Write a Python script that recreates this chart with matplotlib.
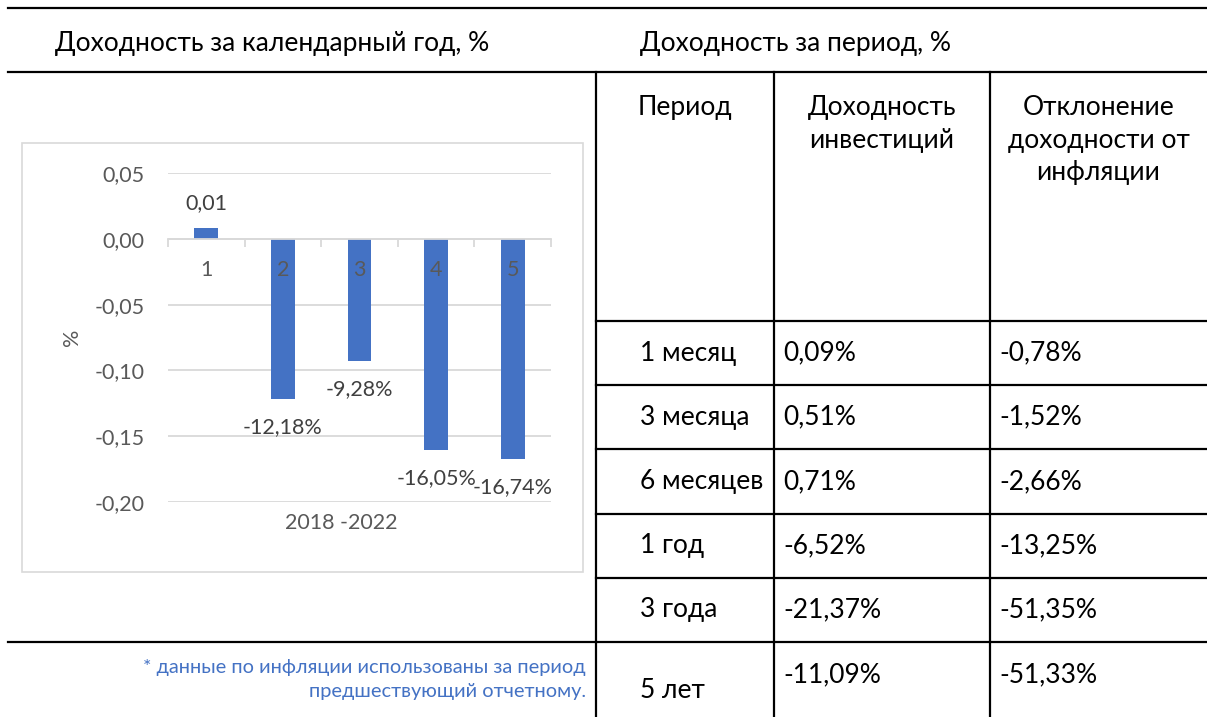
import matplotlib
matplotlib.use("Agg")
import matplotlib.pyplot as plt
from matplotlib.patches import Rectangle
from matplotlib.ticker import FixedLocator, FuncFormatter

plt.rcParams['font.family'] = ['Lato', 'DejaVu Sans']

# chart data: calendar-year returns
categories = ['1', '2', '3', '4', '5']
returns = [0.0085, -0.1218, -0.0928, -0.1605, -0.1674]
bar_labels = ['0,01', '-12,18%', '-9,28%', '-16,05%', '-16,74%']
period_caption = '2018 -2022'

# table data: returns over period
periods = ['1 месяц', '3 месяца', '6 месяцев', '1 год', '3 года', '5 лет']
invest_return = [0.09, 0.51, 0.71, -6.52, -21.37, -11.09]
infl_deviation = [-0.78, -1.52, -2.66, -13.25, -51.35, -51.33]

title_left = 'Доходность за календарный год, %'
title_right = 'Доходность за период, %'
col_headers = ['Период', 'Доходность\nинвестиций', 'Отклонение\nдоходности от\nинфляции']
note = '* данные по инфляции использованы за период\nпредшествующий отчетному.'

W, H = 1207, 717
BAR = '#4472C4'
GRID = '#D9D9D9'
TXT = '#000000'
BIG = 19      # page / table text
SMALL = 15.5  # chart text


def pct(v):
    return f"{v:.2f}%".replace('.', ',')


fig = plt.figure(figsize=(W / 100, H / 100), dpi=100)
bg = fig.add_axes([0, 0, 1, 1])
bg.set_xlim(0, W)
bg.set_ylim(H, 0)
bg.axis('off')

lw = 1.6
# page rules
bg.plot([8, W], [8, 8], color='k', lw=lw)
bg.plot([8, W], [72, 72], color='k', lw=lw)
bg.plot([596, 596], [72, H], color='k', lw=lw)
bg.plot([8, 596], [642, 642], color='k', lw=lw)

bg.text(55, 43, title_left, fontsize=BIG, va='center', ha='left', color=TXT)
bg.text(640, 43, title_right, fontsize=BIG, va='center', ha='left', color=TXT)

# table grid
col_x = [596, 774, 990, W]
row_y = [321 + 64.2 * i for i in range(6)]
for x in col_x[1:3]:
    bg.plot([x, x], [72, H], color='k', lw=lw)
for y in row_y:
    bg.plot([596, W], [y, y], color='k', lw=lw)

for i, h in enumerate(col_headers):
    cx = (col_x[i] + col_x[i + 1]) / 2
    bg.text(cx, 95, h, fontsize=BIG, ha='center', va='top', color=TXT, linespacing=1.38)

for i, (p, a, b) in enumerate(zip(periods, invest_return, infl_deviation)):
    y0 = row_y[i]
    if i < len(periods) - 1:
        yp = yv = y0 + 32
    else:
        yp, yv = y0 + 48, y0 + 33
    bg.text(640, yp, p, fontsize=BIG, va='center', ha='left', color=TXT)
    bg.text(783, yv, pct(a), fontsize=BIG, va='center', ha='left', color=TXT)
    bg.text(999, yv, pct(b), fontsize=BIG, va='center', ha='left', color=TXT)

# note under the chart
bg.text(586, 680, note, fontsize=14.4, ha='right', va='center', color=BAR,
        linespacing=1.5, multialignment='right')

# chart frame
bg.add_patch(Rectangle((22, 143), 561, 429, fill=False, ec=GRID, lw=1.2))

# bar chart
ax = fig.add_axes([168 / W, 1 - 502 / H, 383 / W, 329 / H])
x = list(range(len(categories)))
ax.bar(x, returns, width=0.31, color=BAR, zorder=2)
ax.set_xlim(-0.5, len(categories) - 0.5)
ax.set_ylim(-0.20, 0.05)
ax.set_yticks([0.05, 0.0, -0.05, -0.10, -0.15, -0.20])
ax.yaxis.set_major_formatter(FuncFormatter(lambda v, _: f"{v + 0.0:.2f}".replace('.', ',')))
ax.grid(axis='y', color=GRID, lw=1.3, zorder=0)
ax.tick_params(axis='y', length=0, pad=17, labelsize=SMALL, labelcolor='#595959')

for s in ['top', 'right', 'left']:
    ax.spines[s].set_visible(False)
ax.spines['bottom'].set_position(('data', 0))
ax.spines['bottom'].set_color(GRID)
ax.spines['bottom'].set_linewidth(1.3)
ax.spines['bottom'].set_zorder(3)
ax.set_xticks(x)
ax.set_xticklabels(categories)
ax.xaxis.set_minor_locator(FixedLocator([i - 0.5 for i in range(len(categories) + 1)]))
ax.tick_params(axis='x', which='major', length=0, pad=15, labelsize=SMALL, labelcolor='#595959')
ax.tick_params(axis='x', which='minor', length=6, color=GRID, width=1.3)
ax.xaxis.set_zorder(3)

for xi, v, lab in zip(x, returns, bar_labels):
    off = 18 if v > 0 else -20
    ax.annotate(lab, (xi, v), xytext=(0, off), textcoords='offset points',
                ha='center', va='center', fontsize=SMALL, color='#404040')

ax.text((341 - 168) / 383, -0.065, period_caption, transform=ax.transAxes,
        ha='center', va='center', fontsize=SMALL, color='#595959')
ax.text((72 - 168) / 383, 0.5, '%', transform=ax.transAxes, rotation=90,
        ha='center', va='center', fontsize=SMALL, color='#595959')

fig.savefig('out.png', dpi=100)
